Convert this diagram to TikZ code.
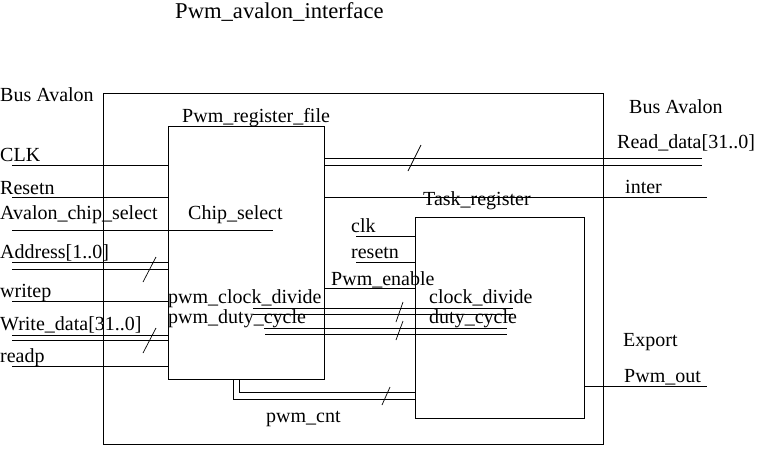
\documentclass[tikz,border=0pt]{standalone}
\usepackage{fontspec}
\setmainfont{Liberation Serif}
\begin{document}
\begin{tikzpicture}[x=1pt,y=-1pt,
  wire/.style={line width=0.9pt},
  bus/.style={line width=0.7pt},
  blk/.style={line width=0.9pt},
  lbl/.style={anchor=base west,inner sep=0pt,font=\fontsize{20}{22}\selectfont},
  ttl/.style={anchor=base west,inner sep=0pt,font=\fontsize{22.6}{26}\selectfont}]
\useasboundingbox (0,0) rectangle (757,448);
% blocks
\draw[blk] (103,93) rectangle (603,444);
\draw[blk] (168,126) rectangle (324,379);
\draw[blk] (415,217) rectangle (584,418);
% labels
\node[ttl] (title) at (175,18) {Pwm\_avalon\_interface};
\node[lbl] (busL) at (0,101) {Bus Avalon};
\node[lbl] (busR) at (629,113) {Bus Avalon};
\node[lbl] (regf) at (182,122) {Pwm\_register\_file};
\node[lbl] (taskr) at (423,205) {Task\_register};
\node[lbl] (clkL) at (0,161) {CLK};
\node[lbl] (rstL) at (0,194) {Resetn};
\node[lbl] (acs) at (0,219) {Avalon\_chip\_select};
\node[lbl] (cs) at (188,219) {Chip\_select};
\node[lbl] (addr) at (0,258) {Address[1..0]};
\node[lbl] (wrp) at (0,297) {writep};
\node[lbl] (wd) at (0,330) {Write\_data[31..0]};
\node[lbl] (rdp) at (0,362) {readp};
\node[lbl] (pcd) at (168,303) {pwm\_clock\_divide};
\node[lbl] (pdc) at (168,323) {pwm\_duty\_cycle};
\node[lbl] (pcnt) at (266,422) {pwm\_cnt};
\node[lbl] (rdd) at (617,148) {Read\_data[31..0]};
\node[lbl] (inter) at (625,193) {inter};
\node[lbl] (clkT) at (351,232) {clk};
\node[lbl] (rstT) at (351,258) {resetn};
\node[lbl] (pen) at (331,285) {Pwm\_enable};
\node[lbl] (cd) at (429,303) {clock\_divide};
\node[lbl] (dc) at (429,323) {duty\_cycle};
\node[lbl] (exp) at (623,346) {Export};
\node[lbl] (pout) at (624,382) {Pwm\_out};
% left inputs
\draw[wire] (12,165) -- (168,165);
\draw[wire] (12,197) -- (168,197);
\draw[wire] (12,230) -- (273,230);
\draw[wire] (12,262) -- (168,262);
\draw[wire] (12,269) -- (168,269);
\draw[bus] (143,282) -- (156,257);
\draw[wire] (12,301) -- (168,301);
\draw[wire] (12,335) -- (168,335);
\draw[wire] (12,340) -- (168,340);
\draw[bus] (143,353) -- (156,328);
\draw[wire] (12,366) -- (168,366);
% right outputs
\draw[wire] (324,158) -- (702,158);
\draw[wire] (324,165) -- (702,165);
\draw[bus] (408,171) -- (421,145);
\draw[wire] (324,197) -- (707,197);
% task register inputs
\draw[wire] (356,236) -- (415,236);
\draw[wire] (356,262) -- (415,262);
\draw[wire] (324,288) -- (415,288);
\draw[wire] (253,308) -- (513,308);
\draw[wire] (253,314) -- (513,314);
\draw[wire] (264,328) -- (507,328);
\draw[wire] (265,334) -- (507,334);
\draw[bus] (396,322) -- (403,302);
\draw[bus] (396,340) -- (403,321);
% pwm_cnt
\draw[wire] (233,379) -- (233,399) -- (415,399);
\draw[wire] (239,379) -- (239,392) -- (415,392);
\draw[bus] (382,405) -- (390,387);
% pwm_out
\draw[wire] (584,386) -- (707,386);
\end{tikzpicture}
\end{document}
